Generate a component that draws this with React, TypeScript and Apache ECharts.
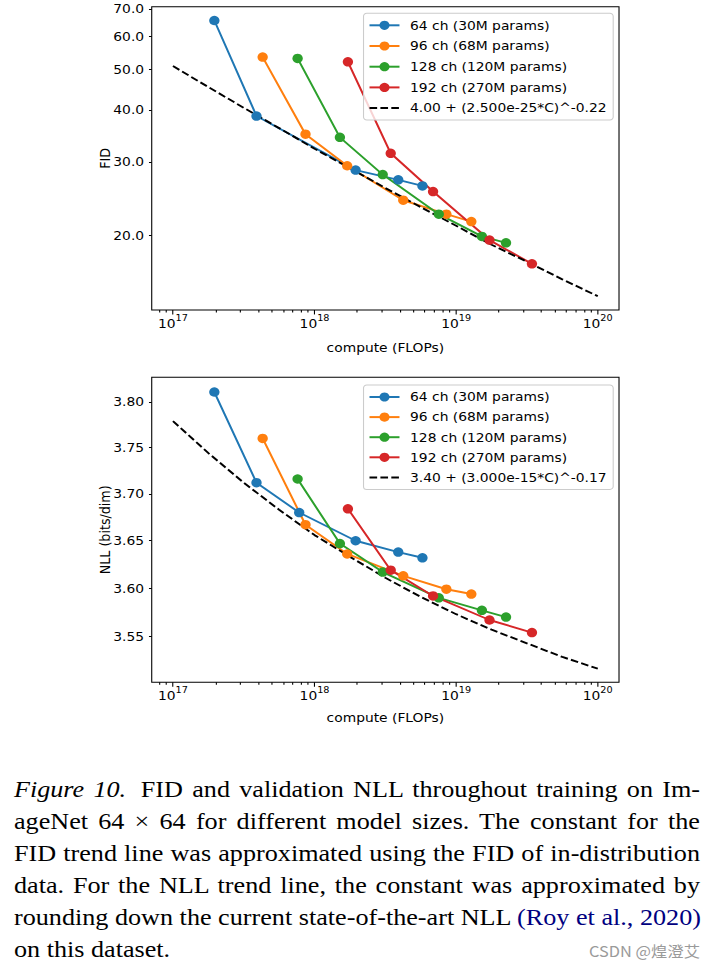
import React, { useEffect, useRef } from "react";
import * as echarts from "echarts";

// ---------- data ----------
const SERIES_NAMES = [
  "64 ch (30M params)",
  "96 ch (68M params)",
  "128 ch (120M params)",
  "192 ch (270M params)",
];
const COLORS = ["#1f77b4", "#ff7f0e", "#2ca02c", "#d62728"];

const BLUE_FID_C = [1.96e17, 3.89e17, 1.95e18, 3.9e18, 5.78e18];
const BLUE_FID = [65.6, 38.7, 28.7, 27.2, 26.3];
const BLUE_NLL_C = [1.96e17, 3.89e17, 7.79e17, 1.95e18, 3.9e18, 5.78e18];
const BLUE_NLL = [3.811, 3.712, 3.68, 3.65, 3.638, 3.632];

const ORANGE_C = [4.3e17, 8.63e17, 1.7e18, 4.23e18, 8.53e18, 1.28e19];
const ORANGE_FID = [53.6, 35.0, 29.4, 24.3, 22.5, 21.6];
const ORANGE_NLL = [3.76, 3.667, 3.636, 3.613, 3.599, 3.594];

const GREEN_C = [7.59e17, 1.51e18, 3.03e18, 7.54e18, 1.52e19, 2.25e19];
const GREEN_FID = [53.2, 34.4, 28.0, 22.5, 19.9, 19.2];
const GREEN_NLL = [3.716, 3.647, 3.617, 3.59, 3.577, 3.57];

const RED_C = [1.72e18, 3.45e18, 6.87e18, 1.72e19, 3.43e19];
const RED_FID = [52.2, 31.5, 25.5, 19.5, 17.1];
const RED_NLL = [3.684, 3.619, 3.592, 3.567, 3.554];

const TREND_C = [
  1e17, 1.78e17, 3.16e17, 5.62e17, 1e18, 1.78e18, 3.16e18, 5.62e18, 1e19,
  1.78e19, 3.16e19, 5.62e19, 1e20,
];
const FID_TREND = [51.0, 45.4, 40.5, 36.2, 32.3, 29.0, 26.0, 23.4, 21.1, 19.0, 17.3, 15.7, 14.3];
const NLL_TREND = [
  3.779, 3.744, 3.712, 3.683, 3.656, 3.633, 3.611, 3.591, 3.573, 3.557, 3.543, 3.529, 3.517,
];
const FID_TREND_NAME = "4.00 + (2.500e-25*C)^-0.22";
const NLL_TREND_NAME = "3.40 + (3.000e-15*C)^-0.17";

const X_MAJOR_TICKS = [1e17, 1e18, 1e19, 1e20];
const X_MINOR_TICKS = [
  8e16, 9e16,
  2e17, 3e17, 4e17, 5e17, 6e17, 7e17, 8e17, 9e17,
  2e18, 3e18, 4e18, 5e18, 6e18, 7e18, 8e18, 9e18,
  2e19, 3e19, 4e19, 5e19, 6e19, 7e19, 8e19, 9e19,
];
const FID_TICKS = [20, 30, 40, 50, 60, 70];
const NLL_TICKS = [3.55, 3.6, 3.65, 3.7, 3.75, 3.8];
const X_RANGE = [7.08e16, 1.413e20];
const FID_RANGE = [13.25, 70.8];
const NLL_RANGE = [3.5031, 3.8273];

// ---------- layout ----------
const SX = 1.09; // the reference is slightly stretched horizontally
const BASE_W = 655;
const CHART_H = 740;
const FONT = "DejaVu Sans";
const FS = 12.7;

const pairs = (xs: number[], ys: number[]) => xs.map((x, i) => [x, ys[i]]);

function makeXAxes(gridIndex: number, nameGap: number) {
  const tickLine = { color: "#000", width: 1 };
  return [
    {
      type: "log",
      gridIndex,
      position: "bottom",
      min: X_RANGE[0],
      max: X_RANGE[1],
      axisLine: { show: false },
      splitLine: { show: false },
      axisTick: { show: true, customValues: X_MAJOR_TICKS, length: 4.45, lineStyle: tickLine },
      axisLabel: {
        show: true,
        customValues: X_MAJOR_TICKS,
        margin: 6.5,
        formatter: (v: number) => `{b|10}{s|${Math.round(Math.log10(v))}}`,
        rich: {
          b: { fontFamily: FONT, fontSize: FS, color: "#000", lineHeight: 14 },
          s: {
            fontFamily: FONT,
            fontSize: 8.9,
            color: "#000",
            lineHeight: 10,
            padding: [0, 0, 12, 0],
          },
        },
      },
      name: "compute (FLOPs)",
      nameLocation: "middle",
      nameGap,
      nameMoveOverlap: false,
      nameTextStyle: { fontFamily: FONT, fontSize: FS, color: "#000" },
    },
    {
      type: "log",
      gridIndex,
      position: "bottom",
      min: X_RANGE[0],
      max: X_RANGE[1],
      axisLine: { show: false },
      splitLine: { show: false },
      axisLabel: { show: false },
      axisTick: { show: true, customValues: X_MINOR_TICKS, length: 2.54, lineStyle: tickLine },
    },
  ];
}

function makeYAxis(
  gridIndex: number,
  range: number[],
  ticks: number[],
  digits: number,
  name: string
) {
  return {
    type: "log",
    gridIndex,
    min: range[0],
    max: range[1],
    axisLine: { show: false },
    splitLine: { show: false },
    axisTick: {
      show: true,
      customValues: ticks,
      length: 2.54,
      lineStyle: { color: "#000", width: 1 },
    },
    axisLabel: {
      show: true,
      customValues: ticks,
      margin: 7,
      fontFamily: FONT,
      fontSize: FS,
      color: "#000",
      formatter: (v: number) => v.toFixed(digits),
    },
    name,
    nameLocation: "middle",
    nameRotate: 90,
    nameGap: 36.5,
    nameMoveOverlap: false,
    nameTextStyle: { fontFamily: FONT, fontSize: FS, color: "#000" },
  };
}

function makeLegend(top: number, itemGap: number, trendName: string) {
  return {
    orient: "vertical",
    left: 333.5,
    top,
    itemWidth: 27.5,
    itemHeight: 11.5,
    itemGap,
    padding: [5.5, 6, 5.5, 4.5],
    backgroundColor: "rgba(255,255,255,0.8)",
    borderColor: "#cccccc",
    borderWidth: 1,
    borderRadius: 3,
    selectedMode: false,
    textStyle: {
      fontFamily: FONT,
      fontSize: FS,
      color: "#000",
      lineHeight: 11.5,
      padding: [0, 0, 0, 4.7],
    },
    data: [
      ...SERIES_NAMES.map((n) => ({ name: n })),
      { name: trendName, itemStyle: { opacity: 0, color: "rgba(0,0,0,0)", borderWidth: 0 } },
    ],
  };
}

function dataSeries(name: string, color: string, data: number[][], xi: number, yi: number) {
  return {
    type: "line",
    name,
    xAxisIndex: xi,
    yAxisIndex: yi,
    data,
    symbol: "circle",
    symbolSize: 9.5,
    showSymbol: true,
    silent: true,
    lineStyle: { color, width: 1.9 },
    itemStyle: { color },
    emphasis: { disabled: true },
  };
}

function trendSeries(name: string, data: number[][], xi: number, yi: number) {
  return {
    type: "line",
    name,
    xAxisIndex: xi,
    yAxisIndex: yi,
    data,
    symbol: "none",
    silent: true,
    lineStyle: { color: "#000", width: 1.9, type: [7, 3] },
    itemStyle: { color: "#000" },
    emphasis: { disabled: true },
  };
}

function Chart() {
  const ref = useRef<HTMLDivElement>(null);
  useEffect(() => {
    if (!ref.current) return;
    const chart = echarts.init(ref.current, null, { renderer: "svg" });
    const fidData = [
      pairs(BLUE_FID_C, BLUE_FID),
      pairs(ORANGE_C, ORANGE_FID),
      pairs(GREEN_C, GREEN_FID),
      pairs(RED_C, RED_FID),
    ];
    const nllData = [
      pairs(BLUE_NLL_C, BLUE_NLL),
      pairs(ORANGE_C, ORANGE_NLL),
      pairs(GREEN_C, GREEN_NLL),
      pairs(RED_C, RED_NLL),
    ];
    const option: any = {
      animation: false,
      textStyle: { fontFamily: FONT },
      grid: [
        { left: 139.2, top: 6.7, width: 428.7, height: 303.3, show: true, borderColor: "#000", borderWidth: 1 },
        { left: 139.2, top: 377.3, width: 428.7, height: 305, show: true, borderColor: "#000", borderWidth: 1 },
      ],
      xAxis: [...makeXAxes(0, 31.6), ...makeXAxes(1, 29.2)],
      yAxis: [
        makeYAxis(0, FID_RANGE, FID_TICKS, 1, "FID"),
        makeYAxis(1, NLL_RANGE, NLL_TICKS, 2, "NLL (bits/dim)"),
      ],
      legend: [makeLegend(13.3, 7.7, FID_TREND_NAME), makeLegend(385, 7.1, NLL_TREND_NAME)],
      series: [
        ...SERIES_NAMES.map((n, i) => dataSeries(n, COLORS[i], fidData[i], 0, 0)),
        trendSeries(FID_TREND_NAME, pairs(TREND_C, FID_TREND), 0, 0),
        ...SERIES_NAMES.map((n, i) => dataSeries(n, COLORS[i], nllData[i], 2, 1)),
        trendSeries(NLL_TREND_NAME, pairs(TREND_C, NLL_TREND), 2, 1),
      ],
    };
    chart.setOption(option);
    return () => chart.dispose();
  }, []);
  return (
    <div
      ref={ref}
      style={{ position: "absolute", left: 0, top: 0, width: BASE_W, height: CHART_H }}
    />
  );
}

const lineStyle: React.CSSProperties = {
  textAlign: "justify",
  textAlignLast: "justify",
  whiteSpace: "nowrap",
};

export default function App() {
  return (
    <div
      style={{
        position: "absolute",
        left: 0,
        top: 0,
        width: BASE_W,
        height: 967,
        background: "#fff",
        transform: `scaleX(${SX})`,
        transformOrigin: "0 0",
        overflow: "hidden",
      }}
    >
      <Chart />
      <div
        style={{
          position: "absolute",
          left: 12.8,
          top: 773,
          width: 629.4,
          fontFamily: '"Liberation Serif", "Times New Roman", serif',
          fontSize: 24,
          lineHeight: "32px",
          color: "#000",
        }}
      >
        <div style={lineStyle}>
          <i style={{ marginRight: 5 }}>Figure 10.</i> FID and validation NLL throughout training on Im-
        </div>
        <div style={lineStyle}>ageNet 64 × 64 for different model sizes. The constant for the</div>
        <div style={lineStyle}>FID trend line was approximated using the FID of in-distribution</div>
        <div style={lineStyle}>data. For the NLL trend line, the constant was approximated by</div>
        <div style={lineStyle}>
          rounding down the current state-of-the-art NLL{" "}
          <span style={{ color: "#000080" }}>(Roy et al., 2020)</span>
        </div>
        <div
          style={{
            display: "flex",
            justifyContent: "space-between",
            alignItems: "baseline",
            whiteSpace: "nowrap",
          }}
        >
          <span>on this dataset.</span>
          <span
            style={{
              fontFamily: '"Noto Sans CJK SC", sans-serif',
              fontSize: 15,
              color: "#9a9a9a",
            }}
          >
            CSDN @煌澄艾
          </span>
        </div>
      </div>
    </div>
  );
}
